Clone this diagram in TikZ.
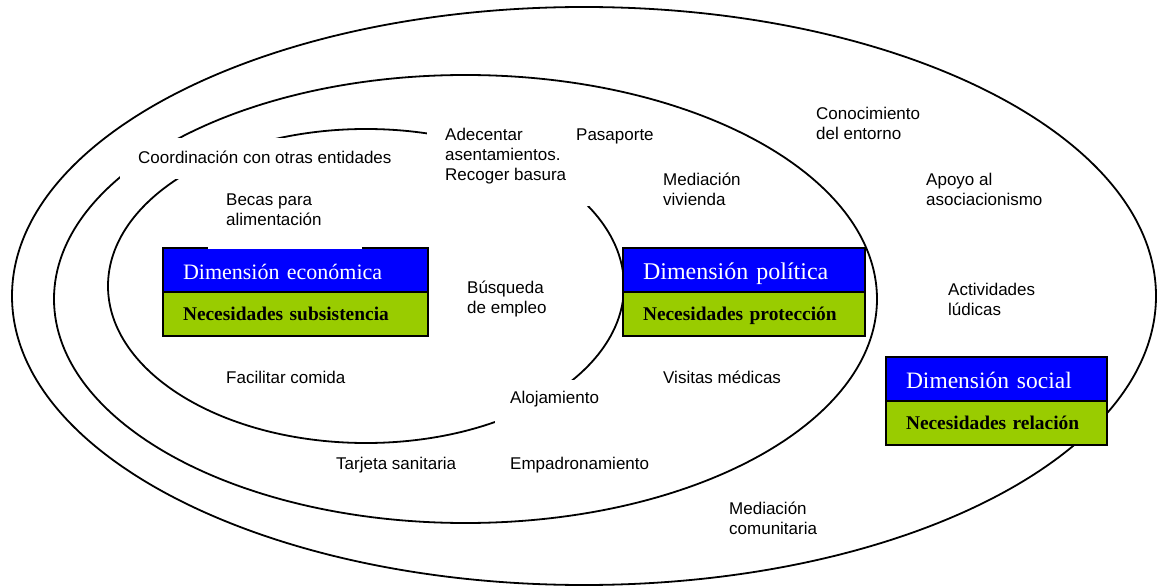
\documentclass[tikz,border=0pt]{standalone}
\usepackage{fontspec}
\setmainfont{Liberation Sans}
\newfontfamily\timesfont{Liberation Serif}
\usetikzlibrary{positioning}

\definecolor{azuldim}{RGB}{0,0,255}
\definecolor{verdenec}{RGB}{153,204,0}

\tikzset{
	anillo/.style={line width=1.8pt},
	hueco/.style={fill=white},
	etiqueta/.style={anchor=west, inner sep=0pt, align=left, font=\fontsize{17}{20}\selectfont},
	dim/.style={draw, line width=2.5pt, outer sep=0pt, fill=azuldim, text=white, minimum height=44pt, inner xsep=20pt, inner ysep=0pt, align=left, text height=19pt, text depth=0pt},
	nec/.style={dim, fill=verdenec, text=black, text height=13pt, text depth=0pt, font=\timesfont\bfseries\fontsize{19.4}{22}\selectfont},
}

\begin{document}
\begin{tikzpicture}[x=1pt, y=-1pt]
		\newcommand\caja[7]{
			% (nombre, x, y, ancho texto, tamaño, dimensión, necesidades)
			\node[dim, anchor=north west, text width=#4pt, font=\timesfont\fontsize{#5}{#5}\selectfont] (#1) at (#2, #3) {#6};
			\node[nec, text width=#4pt, below=0pt of #1] (#1n) {#7};
		}
		
		\useasboundingbox (0, 0) rectangle (1157, 588);
		
		% anillos
		\draw[anillo] (584, 296) ellipse (572pt and 289pt);
		\draw[anillo] (465.5, 299) ellipse (411.5pt and 224pt);
		\draw[anillo] (366, 286) ellipse (258pt and 157pt);
		
		% fondos blancos de los cuadros de texto
		\path[hueco] (120, 138) rectangle (405, 179);
		\path[hueco] (427, 118) rectangle (600, 206);
		\path[hueco] (495, 380) rectangle (615, 432);
		
		\caja{eco}{163}{248}{225}{22}{Dimensión económica}{Necesidades subsistencia}
		\caja{pol}{623}{248}{202}{24}{Dimensión política}{Necesidades protección}
		\caja{soc}{886}{357}{181}{23.5}{Dimensión social}{Necesidades relación}
		
		\path[hueco] (208, 185) rectangle (362, 249.5);
		
		\node[etiqueta] (coord) at (138, 157) {Coordinación con otras entidades};
		\node[etiqueta] (becas) at (226, 210) {Becas para\\alimentación};
		\node[etiqueta] (adec) at (445, 156) {Adecentar\\asentamientos.\\Recoger basura};
		\node[etiqueta] (pasap) at (576, 136) {Pasaporte};
		\node[etiqueta] (conoc) at (816, 123) {Conocimiento\\del entorno};
		\node[etiqueta] (medviv) at (663, 189) {Mediación\\vivienda};
		\node[etiqueta] (apoyo) at (926, 189) {Apoyo al\\asociacionismo};
		\node[etiqueta] (busq) at (467, 299) {Búsqueda\\de empleo};
		\node[etiqueta] (activ) at (948, 299) {Actividades\\lúdicas};
		\node[etiqueta] (facil) at (226, 377) {Facilitar comida};
		\node[etiqueta] (visit) at (663, 377) {Visitas médicas};
		\node[etiqueta] (aloj) at (510, 399) {Alojamiento};
		\node[etiqueta] (tarj) at (336, 465) {Tarjeta sanitaria};
		\node[etiqueta] (empad) at (510, 465) {Empadronamiento};
		\node[etiqueta] (medcom) at (729, 518) {Mediación\\comunitaria};
		
	\end{tikzpicture}
\end{document}
